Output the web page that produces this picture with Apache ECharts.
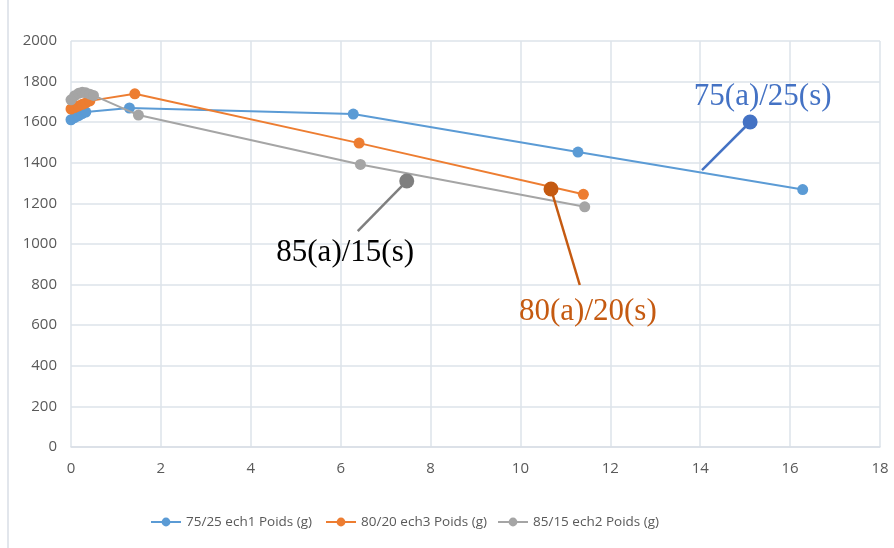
<!DOCTYPE html>
<html>
<head>
<meta charset="utf-8">
<script src="https://cdn.jsdelivr.net/npm/echarts@6/dist/echarts.min.js"></script>
<style>html,body{margin:0;padding:0;background:#fff}#c{width:894px;height:548px}</style>
</head>
<body>
<div id="c"></div>
<script>
const seriesNames = ['75/25 ech1 Poids (g)', '80/20 ech3 Poids (g)', '85/15 ech2 Poids (g)'];
const blueX = [0, 0.08, 0.17, 0.25, 0.33, 1.3, 6.28, 11.28, 16.28];
const blueY = [1612, 1622, 1632, 1642, 1650, 1670, 1640, 1453, 1268];
const orangeX = [0, 0.08, 0.17, 0.25, 0.33, 0.42, 1.42, 6.41, 11.4];
const orangeY = [1665, 1672, 1680, 1688, 1695, 1705, 1740, 1497, 1245];
const grayX = [0, 0.08, 0.17, 0.25, 0.33, 0.42, 0.5, 1.5, 6.44, 11.43];
const grayY = [1710, 1730, 1742, 1748, 1745, 1738, 1732, 1635, 1392, 1183];
const xTicks = [0, 2, 4, 6, 8, 10, 12, 14, 16, 18];
const yTicks = [0, 200, 400, 600, 800, 1000, 1200, 1400, 1600, 1800, 2000];

const calloutLabels = ['75(a)/25(s)', '80(a)/20(s)', '85(a)/15(s)'];
const calloutDot = [[15.11, 1601], [10.68, 1271], [7.47, 1310]];
const calloutTail = [[14.04, 1364], [11.32, 798], [6.38, 1064]];
const calloutText = [[15.39, 1724], [11.50, 665], [6.10, 956]];

const colors = ['#5B9BD5', '#ED7D31', '#A5A5A5'];
const calloutColors = ['#4472C4', '#C55A11', '#7F7F7F'];
const calloutTextColors = ['#4472C4', '#C55A11', '#000000'];

const FONT = 'Open Sans, sans-serif';
const zip = (xs, ys) => xs.map((x, i) => [x, ys[i]]);
const mainData = [zip(blueX, blueY), zip(orangeX, orangeY), zip(grayX, grayY)];

const series = [];
mainData.forEach((d, i) => {
  series.push({
    name: seriesNames[i], type: 'line', data: d,
    symbol: 'circle', symbolSize: 11, showSymbol: true,
    lineStyle: { color: colors[i], width: 2 },
    itemStyle: { color: colors[i] },
    z: 2 + i, animation: false
  });
});
calloutLabels.forEach((lab, i) => {
  series.push({
    type: 'line', data: [calloutDot[i], calloutTail[i]],
    symbol: 'circle',
    symbolSize: (v, p) => p.dataIndex === 0 ? 15 : 0,
    lineStyle: { color: calloutColors[i], width: 2.5 },
    itemStyle: { color: calloutColors[i] },
    z: 10, animation: false, silent: true
  });
  series.push({
    type: 'scatter', data: [calloutText[i]], symbolSize: 1,
    itemStyle: { opacity: 1, color: 'rgba(0,0,0,0)' },
    label: {
      show: true, position: 'inside', formatter: lab,
      fontFamily: 'Liberation Serif', fontSize: 31, color: calloutTextColors[i]
    },
    z: 11, animation: false, silent: true
  });
});

const legendLefts = [145, 320, 492];
const legends = seriesNames.map((n, i) => ({
  data: [n], bottom: 14, left: legendLefts[i],
  itemWidth: 30, itemHeight: 11,
  textStyle: { color: '#595959', fontSize: 13.5, fontFamily: FONT }
}));

const chart = echarts.init(document.getElementById('c'), null, { renderer: 'canvas' });
chart.setOption({
  backgroundColor: '#fff',
  animation: false,
  grid: { left: 71, right: 14, top: 41, bottom: 101, containLabel: false },
  xAxis: {
    type: 'value', min: xTicks[0], max: xTicks[xTicks.length - 1], interval: 2,
    axisLine: { show: true, lineStyle: { color: '#D9DEE6', width: 1.5 } },
    axisTick: { show: false },
    splitLine: { show: true, lineStyle: { color: '#DDE3EA', width: 1.5 } },
    axisLabel: { color: '#595959', fontSize: 15, fontFamily: FONT, margin: 14, formatter: v => String(v) }
  },
  yAxis: {
    type: 'value', min: yTicks[0], max: yTicks[yTicks.length - 1], interval: 200,
    axisLine: { show: false },
    axisTick: { show: false },
    splitLine: { show: true, lineStyle: { color: '#DDE3EA', width: 1.5 } },
    axisLabel: { color: '#595959', fontSize: 15, fontFamily: FONT, margin: 14, formatter: v => String(v) }
  },
  legend: legends,
  graphic: [{
    type: 'line', shape: { x1: 8, y1: 0, x2: 8, y2: 548 },
    style: { stroke: '#D9DEE6', lineWidth: 1.5 }
  }],
  series: series
});
</script>
</body>
</html>
